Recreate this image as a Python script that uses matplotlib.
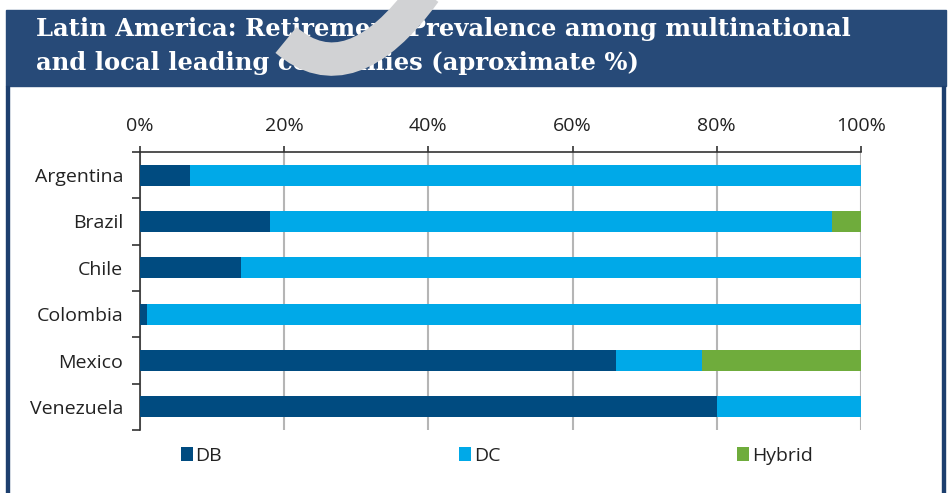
import numpy as np
import matplotlib
matplotlib.use('Agg')
import matplotlib.pyplot as plt
from matplotlib.patches import Rectangle, PathPatch
from matplotlib.path import Path

countries = ['Argentina', 'Brazil', 'Chile', 'Colombia', 'Mexico', 'Venezuela']
db = [7, 18, 14, 1, 66, 80]
dc = [93, 78, 86, 99, 12, 20]
hybrid = [0, 4, 0, 0, 22, 0]
series_names = ['DB', 'DC', 'Hybrid']
series_colors = ['#004b80', '#00a9e8', '#6fac3c']
xticks = [0, 20, 40, 60, 80, 100]
title = 'Latin America: Retirement Prevalence among multinational\nand local leading companies (aproximate %)'

W, H = 949, 493
fig = plt.figure(figsize=(W / 100, H / 100), dpi=100)
fig.patch.set_facecolor('white')

sans = ['Open Sans', 'DejaVu Sans']
fs = 14

# frame / header layer
bg = fig.add_axes([0, 0, 1, 1], zorder=0)
bg.set_xlim(0, W)
bg.set_ylim(H, 0)
bg.axis('off')
bg.add_patch(Rectangle((6, 10), 940, 76, color='#274a78', zorder=1))
bg.add_patch(Rectangle((6, 86), 3, H - 86, color='#1d3f6e', zorder=1))
bg.add_patch(Rectangle((942, 86), 3, H - 86, color='#1d3f6e', zorder=1))

# chart
ax = fig.add_axes([140 / W, 1 - 430 / H, 721 / W, 278 / H], zorder=2)
y = np.arange(len(countries))
left = np.zeros(len(countries))
for vals, name, col in zip([db, dc, hybrid], series_names, series_colors):
    ax.barh(y, vals, left=left, height=0.45, color=col, label=name, zorder=3)
    left = left + np.array(vals)

ax.set_xlim(0, 100)
ax.set_ylim(len(countries) - 0.5, -0.5)
ax.xaxis.tick_top()
ax.set_xticks(xticks)
ax.set_xticklabels([f'{v}%' for v in xticks], fontsize=fs, color='#222222', family=sans)
ax.tick_params(axis='x', direction='out', length=4, width=1.2, color='#333333', pad=8)
ax.set_yticks(y)
ax.set_yticklabels(countries, fontsize=fs, color='#222222', family=sans)
ax.set_yticks(np.arange(-0.5, len(countries)), minor=True)
ax.tick_params(axis='y', which='major', length=0, pad=12)
ax.tick_params(axis='y', which='minor', direction='out', length=6, width=1.2, color='#333333')
ax.grid(axis='x', color='#b5b5b5', linewidth=1.5, zorder=0)
ax.set_axisbelow(True)
for s in ['right', 'bottom']:
    ax.spines[s].set_visible(False)
for s in ['top', 'left']:
    ax.spines[s].set_color('#333333')
    ax.spines[s].set_linewidth(1.2)

fig.legend(loc='center left', bbox_to_anchor=(181 / W, 1 - 456 / H), ncol=3,
           frameon=False, borderpad=0, borderaxespad=0, handlelength=0.62,
           handleheight=0.72, handletextpad=0.12, columnspacing=12.2,
           prop={'family': sans, 'size': fs}, labelcolor='#222222')

# title + swoosh layer
top = fig.add_axes([0, 0, 1, 1], zorder=5)
top.set_xlim(0, W)
top.set_ylim(H, 0)
top.axis('off')
top.text(36, 46, title, color='white', fontsize=17.5, fontweight='bold',
         family='DejaVu Serif', va='center', ha='left', linespacing=1.55, zorder=2)
sw = Path([(286, 40), (350, 95), (425, -8)], [Path.MOVETO, Path.CURVE3, Path.CURVE3])
patch = PathPatch(sw, fill=False, edgecolor='#d1d2d4', linewidth=24, zorder=3)
patch.set_capstyle('butt')
top.add_patch(patch)

fig.savefig('out.png', dpi=100)
